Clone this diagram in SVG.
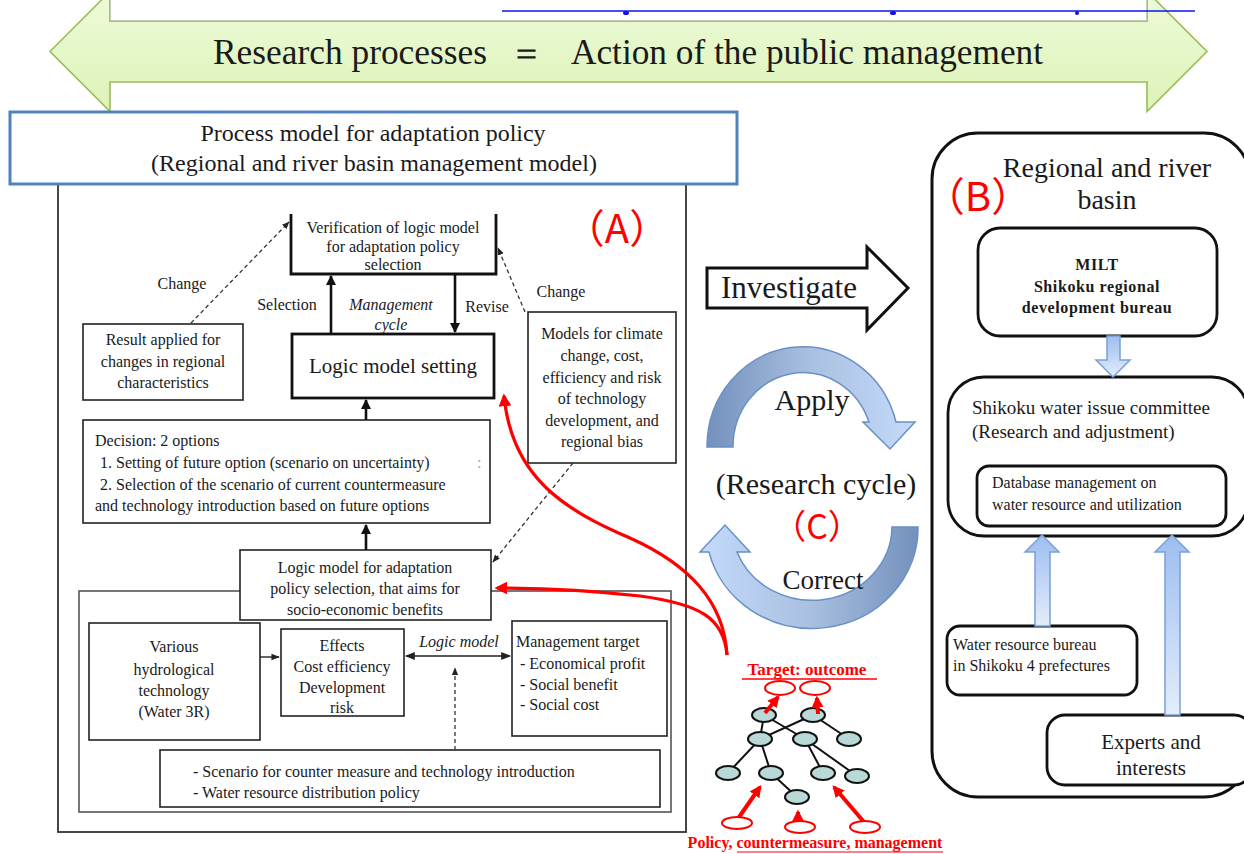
<svg xmlns="http://www.w3.org/2000/svg" width="1244" height="854" viewBox="0 0 1244 854">
  <defs>
    <style>
      .t { font-family: "Liberation Serif", "Times New Roman", serif; fill: #1a1a1a; }
      .s16 { font-size: 16px; }
      .c { text-anchor: middle; }
      .box { fill: #ffffff; stroke: #222; stroke-width: 1.6; }
      .thick { fill: #ffffff; stroke: #111; stroke-width: 2.8; }
      .rbox { fill: #ffffff; stroke: #111; stroke-width: 2.8; }
      .dash { fill: none; stroke: #333; stroke-width: 1.3; stroke-dasharray: 4 3; }
      .solid { fill: none; stroke: #111; stroke-width: 2.6; }
      .thin { fill: none; stroke: #222; stroke-width: 1.4; }
      .red { fill: none; stroke: #ff0000; stroke-width: 3.2; }
      .redtxt { font-family: "Liberation Serif", "Times New Roman", serif; fill: #ff0000; font-weight: bold; }
      .tag { font-family: "Noto Sans CJK JP", "Liberation Sans", sans-serif; fill: #ff0000; text-anchor: middle; }
      .node { fill: #b9d9d9; stroke: #111; stroke-width: 2; }
      .edge { stroke: #111; stroke-width: 2; }
      .outc { fill: #ffffff; stroke: #ff0000; stroke-width: 2; }
      .barrow { fill: url(#blueV); stroke: #7aa0d8; stroke-width: 1.5; }
    </style>
    <linearGradient id="greenG" x1="0" y1="0" x2="0" y2="1">
      <stop offset="0" stop-color="#eefbd8"/>
      <stop offset="1" stop-color="#dcf3b8"/>
    </linearGradient>
    <linearGradient id="blueV" x1="0" y1="0" x2="0" y2="1">
      <stop offset="0" stop-color="#9dbdf0"/>
      <stop offset="1" stop-color="#e3edfb"/>
    </linearGradient>
    <linearGradient id="arcTop" x1="0" y1="0" x2="1" y2="0">
      <stop offset="0" stop-color="#7391bd"/>
      <stop offset="0.5" stop-color="#a9c0e0"/>
      <stop offset="1" stop-color="#c3dafa"/>
    </linearGradient>
    <linearGradient id="arcBot" x1="1" y1="0" x2="0" y2="0">
      <stop offset="0" stop-color="#7391bd"/>
      <stop offset="0.5" stop-color="#a9c0e0"/>
      <stop offset="1" stop-color="#c3dafa"/>
    </linearGradient>
    <marker id="ah" viewBox="0 0 10 10" refX="9" refY="5" markerWidth="4" markerHeight="4" orient="auto">
      <path d="M0,0 L10,5 L0,10 Z" fill="#111"/>
    </marker>
    <marker id="ahs" viewBox="0 0 10 10" refX="9" refY="5" markerWidth="6" markerHeight="6" orient="auto">
      <path d="M0,1 L10,5 L0,9 Z" fill="#222"/>
    </marker>
    <marker id="ahd" viewBox="0 0 10 10" refX="9" refY="5" markerWidth="7" markerHeight="7" orient="auto-start-reverse">
      <path d="M0,1 L10,5 L0,9 Z" fill="#222"/>
    </marker>
    <marker id="ahr" viewBox="0 0 10 10" refX="8" refY="5" markerWidth="4" markerHeight="4" orient="auto">
      <path d="M0,0 L10,5 L0,10 Z" fill="#ff0000"/>
    </marker>
    <marker id="ahr2" viewBox="0 0 10 10" refX="8" refY="5" markerWidth="3" markerHeight="3" orient="auto">
      <path d="M0,0 L10,5 L0,10 Z" fill="#ff0000"/>
    </marker>
  </defs>

  <rect width="1244" height="854" fill="#ffffff"/>

  <!-- banner: double-headed arrow -->
  <g id="banner">
    <path d="M50,51.5 L110,-8.5 L110,21 L1147,21 L1147,-8.5 L1207,51.5 L1147,111.5 L1147,82 L110,82 L110,111.5 Z" fill="url(#greenG)" stroke="#9bbb59" stroke-width="1.6"/>
    <rect x="110" y="-6" width="1037" height="27" fill="#ffffff" stroke="#a8b890" stroke-width="1.4"/>
    <line x1="502" y1="11" x2="1195" y2="11" stroke="#1010f0" stroke-width="1.6"/>
    <ellipse cx="626" cy="13" rx="3" ry="2" fill="#1010f0"/>
    <ellipse cx="893" cy="13" rx="3" ry="2" fill="#1010f0"/>
    <ellipse cx="1077" cy="13" rx="2" ry="2" fill="#1010f0"/>
    <text class="t" x="213" y="64" font-size="35" textLength="274" lengthAdjust="spacingAndGlyphs">Research processes</text>
    <text class="t" x="526" y="64" font-size="35" text-anchor="middle">＝</text>
    <text class="t" x="571" y="64" font-size="35" textLength="472" lengthAdjust="spacingAndGlyphs">Action of the public management</text>
  </g>

  <!-- left panel frame and heading -->
  <g id="process-model">
    <rect x="58" y="184" width="628" height="648" fill="#ffffff" stroke="#333" stroke-width="1.8"/>
    <rect x="10" y="112" width="727" height="72" fill="#ffffff" stroke="#4f81bd" stroke-width="3"/>
    <text class="t c" x="373" y="141" font-size="24">Process model for adaptation policy</text>
    <text class="t c" x="374" y="171" font-size="24">(Regional and river basin management model)</text>
    <text class="tag" x="617" y="243" font-size="40">（A）</text>
  </g>

  <!-- inner logic-model frame -->
  <g id="logic-frame">
    <rect x="79" y="591" width="592" height="221" fill="#ffffff" stroke="#555" stroke-width="1.6"/>
  </g>

  <g id="verification">
    <path d="M291,214 L291,274 L496,274 L496,214" fill="#ffffff" stroke="#111" stroke-width="2.8"/>
    <text class="t c s16" x="393" y="233">Verification of logic model</text>
    <text class="t c s16" x="393" y="252">for adaptation policy</text>
    <text class="t c s16" x="393" y="270">selection</text>
  </g>

  <g id="logic-setting">
    <rect class="thick" x="292" y="334" width="202" height="64"/>
    <text class="t c" x="393" y="373" font-size="21">Logic model setting</text>
  </g>

  <g id="result-applied">
    <rect class="box" x="83" y="324" width="160" height="76"/>
    <text class="t c s16" x="163" y="345">Result applied for</text>
    <text class="t c s16" x="163" y="367">changes in regional</text>
    <text class="t c s16" x="163" y="388">characteristics</text>
  </g>

  <g id="climate-models">
    <rect class="box" x="528" y="312" width="148" height="151"/>
    <text class="t c s16" x="602" y="339">Models for climate</text>
    <text class="t c s16" x="602" y="361">change, cost,</text>
    <text class="t c s16" x="602" y="383">efficiency and risk</text>
    <text class="t c s16" x="602" y="404">of technology</text>
    <text class="t c s16" x="602" y="426">development, and</text>
    <text class="t c s16" x="602" y="447">regional bias</text>
  </g>

  <g id="decision">
    <rect class="box" x="83" y="420" width="407" height="103"/>
    <text class="t s16" x="95" y="446">Decision: 2 options</text>
    <text class="t s16" x="100" y="468">1. Setting of future option (scenario on uncertainty)</text>
    <text class="t s16" x="477" y="468" style="fill:#8fb0c8">:</text>
    <text class="t s16" x="100" y="490">2. Selection of the scenario of current countermeasure</text>
    <text class="t s16" x="95" y="511">and technology introduction based on future options</text>
  </g>

  <g id="logic-adaptation">
    <rect class="box" x="240" y="550" width="251" height="70"/>
    <text class="t c s16" x="365" y="573">Logic model for adaptation</text>
    <text class="t c s16" x="365" y="594">policy selection, that aims for</text>
    <text class="t c s16" x="365" y="615">socio-economic benefits</text>
  </g>

  <g id="hydro-tech">
    <rect class="box" x="89" y="623" width="171" height="117"/>
    <text class="t c s16" x="174" y="652">Various</text>
    <text class="t c s16" x="174" y="675">hydrological</text>
    <text class="t c s16" x="174" y="696">technology</text>
    <text class="t c s16" x="174" y="717">(Water 3R)</text>
  </g>

  <g id="effects">
    <rect class="box" x="281" y="629" width="123" height="87"/>
    <text class="t c s16" x="342" y="651">Effects</text>
    <text class="t c s16" x="342" y="672">Cost efficiency</text>
    <text class="t c s16" x="342" y="693">Development</text>
    <text class="t c s16" x="342" y="713">risk</text>
  </g>

  <g id="management-target">
    <rect class="box" x="512" y="621" width="155" height="115"/>
    <text class="t s16" x="516" y="647">Management target</text>
    <text class="t s16" x="520" y="669">- Economical profit</text>
    <text class="t s16" x="520" y="690">- Social benefit</text>
    <text class="t s16" x="520" y="710">- Social cost</text>
  </g>

  <g id="scenario">
    <rect class="box" x="160" y="750" width="500" height="57"/>
    <text class="t s16" x="193" y="777">- Scenario for counter measure and technology introduction</text>
    <text class="t s16" x="193" y="798">- Water resource distribution policy</text>
  </g>

  <!-- connectors of the process model -->
  <g id="connectors">
    <line class="dash" x1="191" y1="323" x2="289" y2="222" marker-end="url(#ahs)"/>
    <line class="dash" x1="525" y1="312" x2="498" y2="248" marker-end="url(#ahs)"/>
    <line class="dash" x1="573" y1="463" x2="493" y2="562" marker-end="url(#ahs)"/>
    <line class="dash" x1="455" y1="750" x2="455" y2="668" marker-end="url(#ahs)"/>
    <line class="solid" x1="331" y1="334" x2="331" y2="276" marker-end="url(#ah)"/>
    <line class="solid" x1="455" y1="274" x2="455" y2="332" marker-end="url(#ah)"/>
    <line class="solid" x1="366" y1="420" x2="366" y2="400" marker-end="url(#ah)"/>
    <line class="solid" x1="366" y1="550" x2="366" y2="525" marker-end="url(#ah)"/>
    <line class="thin" x1="260" y1="657" x2="279" y2="657" marker-end="url(#ahs)"/>
    <line class="thin" x1="406" y1="656" x2="510" y2="656" marker-start="url(#ahd)" marker-end="url(#ahd)"/>
    <text class="t s16" x="182" y="289" text-anchor="middle">Change</text>
    <text class="t s16" x="561" y="297" text-anchor="middle">Change</text>
    <text class="t s16" x="287" y="310" text-anchor="middle">Selection</text>
    <text class="t s16" x="391" y="310" text-anchor="middle" font-style="italic">Management</text>
    <text class="t s16" x="391" y="330" text-anchor="middle" font-style="italic">cycle</text>
    <text class="t s16" x="487" y="312" text-anchor="middle">Revise</text>
    <text class="t s16" x="459" y="647" text-anchor="middle" font-style="italic">Logic model</text>
    <!-- red feedback curves from the outcome tree -->
    <path class="red" d="M727,655 C724,602 690,565 630,538 C565,510 512,478 504,396" marker-end="url(#ahr)"/>
    <path class="red" d="M727,655 C724,618 700,604 640,596 C580,589 530,588 497,588" marker-end="url(#ahr)"/>
  </g>

  <!-- research cycle -->
  <g id="investigate">
    <path d="M707,268 L867,268 L867,247 L908,288 L867,330 L867,308 L707,308 Z" fill="#ffffff" stroke="#111" stroke-width="3"/>
    <text class="t" x="789" y="298" font-size="31" text-anchor="middle">Investigate</text>
  </g>

  <g id="research-cycle">
    <path d="M707,447 A96,100 0 0 1 896,422 L915,422 L890,449 L863,422 L869,422 A70,74 0 0 0 733,447 Z" fill="url(#arcTop)" stroke="#6a8fc4" stroke-width="1.5"/>
    <path d="M918,527 A106,100 0 0 1 709,552 L700,552 L725,525 L750,552 L737,552 A80,74 0 0 0 892,527 Z" fill="url(#arcBot)" stroke="#6a8fc4" stroke-width="1.5"/>
    <text class="t c" x="812" y="410" font-size="30">Apply</text>
    <text class="t c" x="816" y="494" font-size="30">(Research cycle)</text>
    <text class="tag" x="817" y="539" font-size="34">（C）</text>
    <text class="t c" x="823" y="589" font-size="27">Correct</text>
  </g>

  <!-- outcome tree -->
  <g id="outcome-tree">
    <text class="redtxt" x="807" y="675" font-size="17" text-anchor="middle">Target: outcome</text>
    <line x1="742" y1="679" x2="877" y2="679" stroke="#ff0000" stroke-width="1.3"/>
    <ellipse class="outc" cx="780" cy="688" rx="15" ry="7"/>
    <ellipse class="outc" cx="815" cy="688" rx="15" ry="7"/>
    <g>
      <line class="edge" x1="764" y1="715" x2="760" y2="739"/>
      <line class="edge" x1="764" y1="715" x2="805" y2="739"/>
      <line class="edge" x1="813" y1="715" x2="760" y2="739"/>
      <line class="edge" x1="813" y1="715" x2="849" y2="739"/>
      <line class="edge" x1="760" y1="739" x2="728" y2="773"/>
      <line class="edge" x1="760" y1="739" x2="771" y2="773"/>
      <line class="edge" x1="805" y1="739" x2="823" y2="773"/>
      <line class="edge" x1="805" y1="739" x2="857" y2="776"/>
      <line class="edge" x1="771" y1="773" x2="797" y2="797"/>
    </g>
    <ellipse class="node" cx="764" cy="715" rx="12" ry="7"/>
    <ellipse class="node" cx="813" cy="715" rx="12" ry="7"/>
    <ellipse class="node" cx="760" cy="739" rx="12" ry="7"/>
    <ellipse class="node" cx="805" cy="739" rx="12" ry="7"/>
    <ellipse class="node" cx="849" cy="739" rx="12" ry="7"/>
    <ellipse class="node" cx="728" cy="773" rx="12" ry="7"/>
    <ellipse class="node" cx="771" cy="773" rx="12" ry="7"/>
    <ellipse class="node" cx="823" cy="773" rx="12" ry="7"/>
    <ellipse class="node" cx="857" cy="776" rx="12" ry="7"/>
    <ellipse class="node" cx="797" cy="797" rx="12" ry="7"/>
    <line x1="765" y1="713" x2="778" y2="697" stroke="#ff0000" stroke-width="4" marker-end="url(#ahr2)"/>
    <line x1="818" y1="714" x2="817" y2="698" stroke="#ff0000" stroke-width="4" marker-end="url(#ahr2)"/>
    <line x1="737" y1="820" x2="760" y2="787" stroke="#ff0000" stroke-width="4" marker-end="url(#ahr2)"/>
    <line x1="798" y1="823" x2="798" y2="812" stroke="#ff0000" stroke-width="4" marker-end="url(#ahr2)"/>
    <line x1="864" y1="822" x2="834" y2="787" stroke="#ff0000" stroke-width="4" marker-end="url(#ahr2)"/>
    <ellipse class="outc" cx="737" cy="823" rx="15" ry="6"/>
    <ellipse class="outc" cx="800" cy="827" rx="15" ry="6"/>
    <ellipse class="outc" cx="865" cy="827" rx="15" ry="6"/>
    <text class="redtxt" x="815" y="848" font-size="16" text-anchor="middle">Policy, countermeasure, management</text>
    <line x1="737" y1="852" x2="943" y2="852" stroke="#ff0000" stroke-width="1.2"/>
  </g>

  <!-- regional and river basin -->
  <g id="river-basin">
    <rect x="932" y="133" width="318" height="664" rx="46" ry="46" fill="#ffffff" stroke="#111" stroke-width="3"/>
    <text class="t c" x="1107" y="177" font-size="28">Regional and river</text>
    <text class="t c" x="1107" y="209" font-size="28">basin</text>
    <text class="tag" x="978" y="211" font-size="40">（B）</text>
  </g>

  <g id="milt">
    <rect class="rbox" x="978" y="228" width="239" height="108" rx="22" ry="22"/>
    <text class="t c" x="1097" y="270" font-size="16" font-weight="bold" letter-spacing="0.6">MILT</text>
    <text class="t c" x="1097" y="292" font-size="16" font-weight="bold" letter-spacing="0.6">Shikoku regional</text>
    <text class="t c" x="1097" y="313" font-size="16" font-weight="bold" letter-spacing="0.6">development bureau</text>
  </g>

  <g id="committee">
    <rect class="rbox" x="948" y="377" width="300" height="159" rx="36" ry="36"/>
    <text class="t" x="972" y="414" font-size="19">Shikoku water issue committee</text>
    <text class="t" x="972" y="438" font-size="19">(Research and adjustment)</text>
  </g>

  <g id="database">
    <rect class="rbox" x="977" y="466" width="249" height="60" rx="12" ry="12"/>
    <text class="t s16" x="992" y="488">Database management on</text>
    <text class="t s16" x="992" y="510">water resource and utilization</text>
  </g>

  <g id="prefecture-bureau">
    <rect class="rbox" x="947" y="626" width="190" height="69" rx="13" ry="13"/>
    <text class="t s16" x="953" y="650">Water resource bureau</text>
    <text class="t s16" x="953" y="671">in Shikoku 4 prefectures</text>
  </g>

  <g id="experts">
    <rect class="rbox" x="1047" y="715" width="205" height="70" rx="18" ry="18"/>
    <text class="t c" x="1151" y="749" font-size="21">Experts and</text>
    <text class="t c" x="1151" y="775" font-size="21">interests</text>
  </g>

  <!-- block arrows inside the basin -->
  <g id="basin-arrows">
    <path class="barrow" d="M1107,336 L1120,336 L1120,360 L1130,360 L1113,377 L1096,360 L1107,360 Z"/>
    <path class="barrow" d="M1035,626 L1050,626 L1050,552 L1059,552 L1042,535 L1025,552 L1035,552 Z"/>
    <path class="barrow" d="M1165,715 L1180,715 L1180,552 L1189,552 L1172,535 L1155,552 L1165,552 Z"/>
  </g>
</svg>
